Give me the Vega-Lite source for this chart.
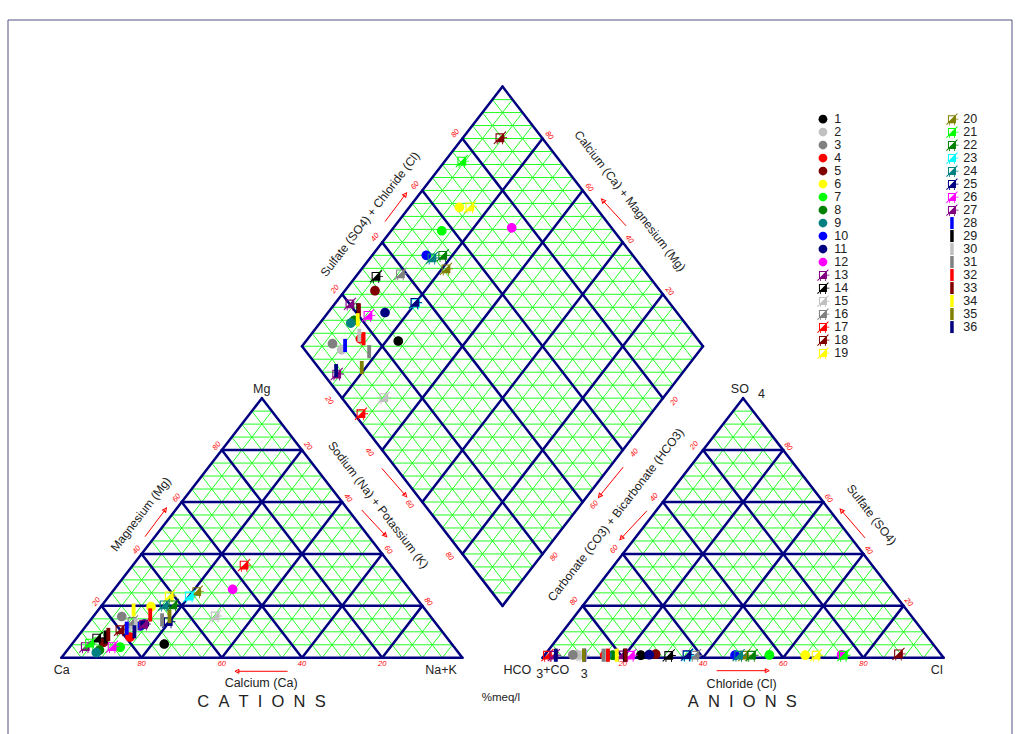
{
  "$schema": "https://vega.github.io/schema/vega-lite/v6.json",
  "width": 1004,
  "height": 714,
  "padding": {"left": 8, "top": 20, "right": 6, "bottom": 0},
  "autosize": {"type": "none"},
  "background": "white",
  "config": {"view": {"stroke": null}, "text": {"font": "Liberation Sans"}},
  "datasets": {
    "gridThin": [
      {"t": "c", "d": 1, "ps": [5,10,15,20,25,30,35,40,45,50,55,60,65,70,75,80,85,90,95]},
      {"t": "c", "d": 2, "ps": [5,10,15,20,25,30,35,40,45,50,55,60,65,70,75,80,85,90,95]},
      {"t": "c", "d": 3, "ps": [5,10,15,20,25,30,35,40,45,50,55,60,65,70,75,80,85,90,95]},
      {"t": "a", "d": 1, "ps": [5,10,15,20,25,30,35,40,45,50,55,60,65,70,75,80,85,90,95]},
      {"t": "a", "d": 2, "ps": [5,10,15,20,25,30,35,40,45,50,55,60,65,70,75,80,85,90,95]},
      {"t": "a", "d": 3, "ps": [5,10,15,20,25,30,35,40,45,50,55,60,65,70,75,80,85,90,95]},
      {"t": "d", "d": 4, "ps": [5,10,15,20,25,30,35,40,45,50,55,60,65,70,75,80,85,90,95]},
      {"t": "d", "d": 5, "ps": [5,10,15,20,25,30,35,40,45,50,55,60,65,70,75,80,85,90,95]},
      {"t": "d", "d": 6, "ps": [5,10,15,20,25,30,35,40,45,50,55,60,65,70,75,80,85,90,95,100,105,110,115,120,125,130,135,140,145,150,155,160,165,170,175,180,185,190,195]}
    ],
    "gridThick": [
      {"t": "c", "d": 1, "ps": [0,20,40,60,80]},
      {"t": "c", "d": 2, "ps": [0,20,40,60,80]},
      {"t": "c", "d": 3, "ps": [0,20,40,60,80]},
      {"t": "a", "d": 1, "ps": [0,20,40,60,80]},
      {"t": "a", "d": 2, "ps": [0,20,40,60,80]},
      {"t": "a", "d": 3, "ps": [0,20,40,60,80]},
      {"t": "d", "d": 4, "ps": [0,20,40,60,80,100]},
      {"t": "d", "d": 5, "ps": [0,20,40,60,80,100]}
    ],
    "samples": [
      {"id": "1", "Mg": 5.3, "NaK": 23, "Cl": 24, "SO4": 1},
      {"id": "2", "Mg": 12, "NaK": 10.6, "Cl": 8, "SO4": 1.2},
      {"id": "3", "Mg": 15.9, "NaK": 7.1, "Cl": 7, "SO4": 1.1},
      {"id": "4", "Mg": 8, "NaK": 13.1, "Cl": 15, "SO4": 1},
      {"id": "5", "Mg": 6, "NaK": 7.5, "Cl": 27.5, "SO4": 1.4},
      {"id": "6", "Mg": 19.7, "NaK": 12.5, "Cl": 65, "SO4": 1},
      {"id": "7", "Mg": 4.1, "NaK": 12.6, "Cl": 56, "SO4": 1.1},
      {"id": "8", "Mg": 3, "NaK": 8, "Cl": 17, "SO4": 1},
      {"id": "9", "Mg": 2, "NaK": 7.7, "Cl": 15.5, "SO4": 1.1},
      {"id": "10", "Mg": 12.3, "NaK": 13.5, "Cl": 47.5, "SO4": 1},
      {"id": "11", "Mg": 13, "NaK": 14.2, "Cl": 26, "SO4": 1.2},
      {"id": "12", "Mg": 26.4, "NaK": 29.5, "Cl": 74, "SO4": 1.1},
      {"id": "13", "Mg": 4.3, "NaK": 3.8, "Cl": 19, "SO4": 1.1},
      {"id": "14", "Mg": 7.6, "NaK": 5, "Cl": 31, "SO4": 0.9},
      {"id": "15", "Mg": 16.1, "NaK": 30.3, "Cl": 9.5, "SO4": 1},
      {"id": "16", "Mg": 14, "NaK": 10.6, "Cl": 37.5, "SO4": 1},
      {"id": "17", "Mg": 35.7, "NaK": 27.7, "Cl": 0.7, "SO4": 1},
      {"id": "18", "Mg": 10.8, "NaK": 9.2, "Cl": 88, "SO4": 1.5},
      {"id": "19", "Mg": 23.8, "NaK": 15, "Cl": 67.7, "SO4": 1},
      {"id": "20", "Mg": 25.5, "NaK": 21, "Cl": 49.8, "SO4": 1},
      {"id": "21", "Mg": 5.65, "NaK": 4.2, "Cl": 74.5, "SO4": 1},
      {"id": "22", "Mg": 20.4, "NaK": 17.6, "Cl": 51.6, "SO4": 1},
      {"id": "23", "Mg": 23.8, "NaK": 20, "Cl": 35.6, "SO4": 1},
      {"id": "24", "Mg": 20.4, "NaK": 15.4, "Cl": 48.4, "SO4": 1},
      {"id": "25", "Mg": 13.9, "NaK": 19.7, "Cl": 35.4, "SO4": 1.2},
      {"id": "26", "Mg": 4.3, "NaK": 10.5, "Cl": 21.4, "SO4": 1},
      {"id": "27", "Mg": 13, "NaK": 14, "Cl": 2.3, "SO4": 1},
      {"id": "28", "Mg": 11.4, "NaK": 10.6, "Cl": 9.9, "SO4": 1},
      {"id": "29", "Mg": 8, "NaK": 7, "Cl": 20, "SO4": 1},
      {"id": "30", "Mg": 12.7, "NaK": 12.2, "Cl": 15.4, "SO4": 1},
      {"id": "31", "Mg": 14.6, "NaK": 17.8, "Cl": 14.7, "SO4": 1},
      {"id": "32", "Mg": 16.5, "NaK": 13.9, "Cl": 15.8, "SO4": 1},
      {"id": "33", "Mg": 9, "NaK": 7.2, "Cl": 20.2, "SO4": 1},
      {"id": "34", "Mg": 18.4, "NaK": 8.8, "Cl": 18, "SO4": 1},
      {"id": "35", "Mg": 15.9, "NaK": 19, "Cl": 9.8, "SO4": 1},
      {"id": "36", "Mg": 10, "NaK": 13.2, "Cl": 2.8, "SO4": 1}
    ]
  },
  "layer": [
    {
      "data": {"values": [
        {"u1": -13.32, "v1": -25.42, "u2": -13.32, "v2": 212.74},
        {"u1": -13.32, "v1": 212.74, "u2": 237.06, "v2": 212.74},
        {"u1": 237.06, "v1": 212.74, "u2": 237.06, "v2": -25.42}
      ]},
      "mark": {"type": "rule", "color": "#505080", "strokeWidth": 1},
      "encoding": {
        "x": {"field": "u1", "type": "quantitative", "scale": {"domain": [-13.32, 237.06], "nice": false, "zero": false}, "axis": null},
        "y": {"field": "v1", "type": "quantitative", "scale": {"domain": [-25.42, 212.74], "nice": false, "zero": false}, "axis": null},
        "x2": {"field": "u2"},
        "y2": {"field": "v2"}
      }
    },
    {
      "data": {"name": "gridThin"},
      "transform": [
        {"flatten": ["ps"], "as": ["p"]},
        {"calculate": "datum.t=='a'?120:0", "as": "ox"},
        {"calculate": "datum.d==1?datum.ox+0.5*datum.p:datum.d==2?datum.ox+datum.p:datum.d==3?datum.ox+100-datum.p:datum.d==4?110-0.5*datum.p:datum.d==5?110+0.5*datum.p:110-0.5*min(datum.p,200-datum.p)", "as": "u1"},
        {"calculate": "datum.d==1?0.866025*datum.p:datum.d<=3?0:17.3205+0.866025*datum.p", "as": "v1"},
        {"calculate": "datum.d==1?datum.ox+100-0.5*datum.p:datum.d==2?datum.ox+50+0.5*datum.p:datum.d==3?datum.ox+50-0.5*datum.p:datum.d==4?160-0.5*datum.p:datum.d==5?60+0.5*datum.p:110+0.5*min(datum.p,200-datum.p)", "as": "u2"},
        {"calculate": "datum.d==1?0.866025*datum.p:datum.d<=3?0.866025*(100-datum.p):datum.d<=5?103.923+0.866025*datum.p:17.3205+0.866025*datum.p", "as": "v2"}
      ],
      "mark": {"type": "rule", "color": "#22ff22", "strokeWidth": 1},
      "encoding": {
        "x": {"field": "u1", "type": "quantitative", "scale": {"domain": [-13.32, 237.06], "nice": false, "zero": false}, "axis": null},
        "y": {"field": "v1", "type": "quantitative", "scale": {"domain": [-25.42, 212.74], "nice": false, "zero": false}, "axis": null},
        "x2": {"field": "u2"},
        "y2": {"field": "v2"}
      }
    },
    {
      "data": {"name": "gridThick"},
      "transform": [
        {"flatten": ["ps"], "as": ["p"]},
        {"calculate": "datum.t=='a'?120:0", "as": "ox"},
        {"calculate": "datum.d==1?datum.ox+0.5*datum.p:datum.d==2?datum.ox+datum.p:datum.d==3?datum.ox+100-datum.p:datum.d==4?110-0.5*datum.p:110+0.5*datum.p", "as": "u1"},
        {"calculate": "datum.d==1?0.866025*datum.p:datum.d<=3?0:17.3205+0.866025*datum.p", "as": "v1"},
        {"calculate": "datum.d==1?datum.ox+100-0.5*datum.p:datum.d==2?datum.ox+50+0.5*datum.p:datum.d==3?datum.ox+50-0.5*datum.p:datum.d==4?160-0.5*datum.p:60+0.5*datum.p", "as": "u2"},
        {"calculate": "datum.d==1?0.866025*datum.p:datum.d<=3?0.866025*(100-datum.p):103.923+0.866025*datum.p", "as": "v2"}
      ],
      "mark": {"type": "rule", "color": "#000080", "strokeWidth": 2.5, "strokeCap": "round"},
      "encoding": {
        "x": {"field": "u1", "type": "quantitative", "scale": {"domain": [-13.32, 237.06], "nice": false, "zero": false}, "axis": null},
        "y": {"field": "v1", "type": "quantitative", "scale": {"domain": [-25.42, 212.74], "nice": false, "zero": false}, "axis": null},
        "x2": {"field": "u2"},
        "y2": {"field": "v2"}
      }
    },
    {
      "data": {"values": [
        {"e": "cL", "ps": [20,40,60,80]},
        {"e": "cR", "ps": [20,40,60,80]},
        {"e": "cB", "ps": [20,40,60,80]},
        {"e": "aL", "ps": [20,40,60,80]},
        {"e": "aR", "ps": [20,40,60,80]},
        {"e": "aB", "ps": [20,40,60,80]},
        {"e": "dUL", "ps": [20,40,60,80]},
        {"e": "dUR", "ps": [20,40,60,80]},
        {"e": "dLL", "ps": [20,40,60,80]},
        {"e": "dLR", "ps": [20,40,60,80]}
      ]},
      "transform": [
        {"flatten": ["ps"], "as": ["p"]},
        {"calculate": "datum.e=='cL'?0.5*datum.p-1.25:datum.e=='cR'?51.45+0.5*datum.p:datum.e=='cB'?100-datum.p:datum.e=='aL'?167.83-0.5*datum.p:datum.e=='aR'?221.25-0.5*datum.p:datum.e=='aB'?120+datum.p:datum.e=='dUL'?58.25+0.5*datum.p:datum.e=='dUR'?161.6-0.5*datum.p:datum.e=='dLL'?56.76+0.5*datum.p:162.9-0.5*datum.p", "as": "u"},
        {"calculate": "datum.e=='cL'?0.866*datum.p+1.33:datum.e=='cR'?87.93-0.866*datum.p:(datum.e=='cB'||datum.e=='aB')?-2.07:datum.e=='aL'?88.13-0.866*datum.p:datum.e=='aR'?0.866*datum.p+1.2:datum.e=='dUL'?105.59+0.866*datum.p:datum.e=='dUR'?104.92+0.866*datum.p:datum.e=='dLL'?103.15-0.866*datum.p:102.92-0.866*datum.p", "as": "v"},
        {"calculate": "indexof(['cL','aL','dUL','dLR'], datum.e)>=0?-52.4:(datum.e=='cB'||datum.e=='aB')?0:52.4", "as": "ang"}
      ],
      "mark": {"type": "text", "color": "#ff0000", "fontSize": 7.5, "fontStyle": "italic", "align": "center", "baseline": "middle"},
      "encoding": {
        "x": {"field": "u", "type": "quantitative", "scale": {"domain": [-13.32, 237.06], "nice": false, "zero": false}, "axis": null},
        "y": {"field": "v", "type": "quantitative", "scale": {"domain": [-25.42, 212.74], "nice": false, "zero": false}, "axis": null},
        "text": {"field": "p", "type": "nominal"},
        "angle": {"field": "ang", "type": "quantitative", "scale": null}
      }
    },
    {
      "data": {"name": "arrows", "values": [
        {"ut": 20.85, "vt": 40.4, "uh": 25.83, "vh": 49.3},
        {"ut": 74.89, "vt": 49.3, "uh": 80.7, "vh": 40.96},
        {"ut": 79.9, "vt": 63.2, "uh": 85.7, "vh": 54.3},
        {"ut": 56.4, "vt": -4.5, "uh": 43.9, "vh": -4.5},
        {"ut": 163.4, "vt": -4.3, "uh": 175.9, "vh": -4.3},
        {"ut": 80.7, "vt": 145.5, "uh": 85.7, "vh": 154.4},
        {"ut": 140.8, "vt": 144.1, "uh": 135.1, "vh": 152.4},
        {"ut": 140.1, "vt": 63.6, "uh": 134.3, "vh": 54.1},
        {"ut": 146.0, "vt": 49.0, "uh": 139.7, "vh": 40.0},
        {"ut": 200.4, "vt": 40.0, "uh": 194.6, "vh": 49.0}
      ]},
      "mark": {"type": "rule", "color": "#ff0000", "strokeWidth": 1},
      "encoding": {
        "x": {"field": "ut", "type": "quantitative", "scale": {"domain": [-13.32, 237.06], "nice": false, "zero": false}, "axis": null},
        "y": {"field": "vt", "type": "quantitative", "scale": {"domain": [-25.42, 212.74], "nice": false, "zero": false}, "axis": null},
        "x2": {"field": "uh"},
        "y2": {"field": "vh"}
      }
    },
    {
      "data": {"name": "arrows"},
      "transform": [
        {"calculate": "atan2((datum.uh-datum.ut)*4.01,(datum.vh-datum.vt)*2.998)*180/PI", "as": "ang"}
      ],
      "mark": {"type": "point", "shape": "M0,-1L0.8,0.6L-0.8,0.6Z", "filled": false, "color": "#ff0000", "size": 25, "strokeWidth": 1, "opacity": 1},
      "encoding": {
        "x": {"field": "uh", "type": "quantitative", "scale": {"domain": [-13.32, 237.06], "nice": false, "zero": false}, "axis": null},
        "y": {"field": "vh", "type": "quantitative", "scale": {"domain": [-25.42, 212.74], "nice": false, "zero": false}, "axis": null},
        "angle": {"field": "ang", "type": "quantitative", "scale": null}
      }
    },
    {
      "data": {"values": [
        {"label": "Mg", "u": 49.95, "v": 89.6},
        {"label": "Ca", "u": 0.05, "v": -4.07},
        {"label": "Na+K", "u": 94.7, "v": -4.07},
        {"label": "Cl", "u": 218.3, "v": -4.07},
        {"label": "Calcium (Ca)", "u": 49.8, "v": -8.5},
        {"label": "Chloride (Cl)", "u": 169.65, "v": -8.74},
        {"label": "SO", "u": 169.2, "v": 89.8},
        {"label": "4", "u": 174.6, "v": 87.9},
        {"label": "HCO", "u": 113.7, "v": -4.07},
        {"label": "3", "u": 119.3, "v": -5.3},
        {"label": "+CO", "u": 123.4, "v": -4.07},
        {"label": "3", "u": 130.4, "v": -5.3}
      ]},
      "mark": {"type": "text", "color": "#222222", "fontSize": 12.5, "align": "center", "baseline": "middle"},
      "encoding": {
        "x": {"field": "u", "type": "quantitative", "scale": {"domain": [-13.32, 237.06], "nice": false, "zero": false}, "axis": null},
        "y": {"field": "v", "type": "quantitative", "scale": {"domain": [-25.42, 212.74], "nice": false, "zero": false}, "axis": null},
        "text": {"field": "label", "type": "nominal"}
      }
    },
    {
      "data": {"values": [
        {"label": "C\u00a0\u00a0A\u00a0\u00a0T\u00a0\u00a0I\u00a0\u00a0O\u00a0\u00a0N\u00a0\u00a0S", "u": 49.9, "v": -14.6},
        {"label": "A\u00a0\u00a0N\u00a0\u00a0I\u00a0\u00a0O\u00a0\u00a0N\u00a0\u00a0S", "u": 169.8, "v": -14.6}
      ]},
      "mark": {"type": "text", "color": "#222222", "fontSize": 16.5, "align": "center", "baseline": "middle"},
      "encoding": {
        "x": {"field": "u", "type": "quantitative", "scale": {"domain": [-13.32, 237.06], "nice": false, "zero": false}, "axis": null},
        "y": {"field": "v", "type": "quantitative", "scale": {"domain": [-25.42, 212.74], "nice": false, "zero": false}, "axis": null},
        "text": {"field": "label", "type": "nominal"}
      }
    },
    {
      "data": {"values": [{"label": "%meq/l", "u": 109.6, "v": -13.5}]},
      "mark": {"type": "text", "color": "#222222", "fontSize": 11.5, "align": "center", "baseline": "middle"},
      "encoding": {
        "x": {"field": "u", "type": "quantitative", "scale": {"domain": [-13.32, 237.06], "nice": false, "zero": false}, "axis": null},
        "y": {"field": "v", "type": "quantitative", "scale": {"domain": [-25.42, 212.74], "nice": false, "zero": false}, "axis": null},
        "text": {"field": "label", "type": "nominal"}
      }
    },
    {
      "data": {"values": [
        {"label": "Magnesium (Mg)", "u": 19.8, "v": 47.9},
        {"label": "Sulfate (SO4) + Chloride (Cl)", "u": 76.96, "v": 147.97},
        {"label": "Carbonate (CO3) + Bicarbonate (HCO3)", "u": 138.25, "v": 47.7}
      ]},
      "mark": {"type": "text", "color": "#222222", "fontSize": 12, "align": "center", "baseline": "middle", "angle": -52.4},
      "encoding": {
        "x": {"field": "u", "type": "quantitative", "scale": {"domain": [-13.32, 237.06], "nice": false, "zero": false}, "axis": null},
        "y": {"field": "v", "type": "quantitative", "scale": {"domain": [-25.42, 212.74], "nice": false, "zero": false}, "axis": null},
        "text": {"field": "label", "type": "nominal"}
      }
    },
    {
      "data": {"values": [
        {"label": "Sodium (Na) + Potassium (K)", "u": 79.03, "v": 50.97},
        {"label": "Calcium (Ca) + Magnesium (Mg)", "u": 141.8, "v": 152.4},
        {"label": "Sulfate (SO4)", "u": 202.07, "v": 47.7}
      ]},
      "mark": {"type": "text", "color": "#222222", "fontSize": 12, "align": "center", "baseline": "middle", "angle": 52.4},
      "encoding": {
        "x": {"field": "u", "type": "quantitative", "scale": {"domain": [-13.32, 237.06], "nice": false, "zero": false}, "axis": null},
        "y": {"field": "v", "type": "quantitative", "scale": {"domain": [-25.42, 212.74], "nice": false, "zero": false}, "axis": null},
        "text": {"field": "label", "type": "nominal"}
      }
    },
    {
      "data": {"name": "samples"},
      "transform": [
        {"calculate": "datum.NaK+0.5*datum.Mg", "as": "uc"},
        {"calculate": "0.866025*datum.Mg", "as": "vc"},
        {"calculate": "120+datum.Cl+0.5*datum.SO4", "as": "ua"},
        {"calculate": "0.866025*datum.SO4", "as": "va"},
        {"calculate": "(100-datum.NaK)/100", "as": "cc"},
        {"calculate": "(datum.Cl+datum.SO4)/100", "as": "aa"},
        {"calculate": "110-50*datum.cc+50*datum.aa", "as": "ud"},
        {"calculate": "17.3205+86.6025*(datum.cc+datum.aa)", "as": "vd"},
        {"calculate": "[datum.uc, datum.ua, datum.ud]", "as": "us"},
        {"calculate": "[datum.vc, datum.va, datum.vd]", "as": "vs"},
        {"flatten": ["us", "vs"], "as": ["u", "v"]}
      ],
      "mark": {"type": "point", "filled": true, "opacity": 1, "size": 120, "strokeWidth": 0},
      "encoding": {
        "x": {"field": "u", "type": "quantitative", "scale": {"domain": [-13.32, 237.06], "nice": false, "zero": false}, "axis": null},
        "y": {"field": "v", "type": "quantitative", "scale": {"domain": [-25.42, 212.74], "nice": false, "zero": false}, "axis": null},
        "color": {
          "field": "id", "type": "nominal",
          "scale": {
            "domain": ["1","2","3","4","5","6","7","8","9","10","11","12","13","14","15","16","17","18","19","20","21","22","23","24","25","26","27","28","29","30","31","32","33","34","35","36","blank"],
            "range": ["#000000","#c0c0c0","#808080","#ff0000","#800000","#ffff00","#00ff00","#008000","#008080","#0000ff","#000080","#ff00ff","#800080","#000000","#c0c0c0","#808080","#ff0000","#800000","#ffff00","#808000","#00ff00","#008000","#00ffff","#008080","#000080","#ff00ff","#800080","#0000ff","#000000","#c0c0c0","#808080","#ff0000","#800000","#ffff00","#808000","#000080","#ffffff"]
          },
          "legend": {"title": null, "orient": "none", "legendX": 808.7, "legendY": 92.8, "columns": 2, "columnPadding": 97, "rowPadding": 0, "symbolLimit": 0, "labelFont": "Liberation Sans", "labelFontSize": 12.5, "labelColor": "#222222", "labelOffset": 5, "symbolSize": 100, "symbolStrokeWidth": 0, "symbolOpacity": 1, "padding": 0, "labelExpr": "datum.value=='blank'?'':datum.label"}
        },
        "shape": {
          "field": "id", "type": "nominal",
          "scale": {
            "domain": ["1","2","3","4","5","6","7","8","9","10","11","12","13","14","15","16","17","18","19","20","21","22","23","24","25","26","27","28","29","30","31","32","33","34","35","36","blank"],
            "range": [
              "M0.88,0A0.88,0.88 0 1,1 -0.88,0A0.88,0.88 0 1,1 0.88,0Z",
              "M0.88,0A0.88,0.88 0 1,1 -0.88,0A0.88,0.88 0 1,1 0.88,0Z",
              "M0.88,0A0.88,0.88 0 1,1 -0.88,0A0.88,0.88 0 1,1 0.88,0Z",
              "M0.88,0A0.88,0.88 0 1,1 -0.88,0A0.88,0.88 0 1,1 0.88,0Z",
              "M0.88,0A0.88,0.88 0 1,1 -0.88,0A0.88,0.88 0 1,1 0.88,0Z",
              "M0.88,0A0.88,0.88 0 1,1 -0.88,0A0.88,0.88 0 1,1 0.88,0Z",
              "M0.88,0A0.88,0.88 0 1,1 -0.88,0A0.88,0.88 0 1,1 0.88,0Z",
              "M0.88,0A0.88,0.88 0 1,1 -0.88,0A0.88,0.88 0 1,1 0.88,0Z",
              "M0.88,0A0.88,0.88 0 1,1 -0.88,0A0.88,0.88 0 1,1 0.88,0Z",
              "M0.88,0A0.88,0.88 0 1,1 -0.88,0A0.88,0.88 0 1,1 0.88,0Z",
              "M0.88,0A0.88,0.88 0 1,1 -0.88,0A0.88,0.88 0 1,1 0.88,0Z",
              "M0.88,0A0.88,0.88 0 1,1 -0.88,0A0.88,0.88 0 1,1 0.88,0Z",

              "M-0.8,-0.8H0.8V0.8H-0.8ZM-0.6,-0.6V0.6H0.6V-0.6ZM-0.6,0.6L0.6,-0.6L0.6,0.6ZM-1.17,1.03L1.03,-1.17L1.17,-1.03L-1.03,1.17ZM0.8,-0.08H1.3V0.08H0.8ZM-0.58,0.8H-0.42V1.2H-0.58ZM0.42,0.8H0.58V1.2H0.42Z",
              "M-0.8,-0.8H0.8V0.8H-0.8ZM-0.6,-0.6V0.6H0.6V-0.6ZM-0.6,0.6L0.6,-0.6L0.6,0.6ZM-1.17,1.03L1.03,-1.17L1.17,-1.03L-1.03,1.17ZM0.8,-0.08H1.3V0.08H0.8ZM-0.58,0.8H-0.42V1.2H-0.58ZM0.42,0.8H0.58V1.2H0.42Z",
              "M-0.8,-0.8H0.8V0.8H-0.8ZM-0.6,-0.6V0.6H0.6V-0.6ZM-0.6,0.6L0.6,-0.6L0.6,0.6ZM-1.17,1.03L1.03,-1.17L1.17,-1.03L-1.03,1.17ZM0.8,-0.08H1.3V0.08H0.8ZM-0.58,0.8H-0.42V1.2H-0.58ZM0.42,0.8H0.58V1.2H0.42Z",
              "M-0.8,-0.8H0.8V0.8H-0.8ZM-0.6,-0.6V0.6H0.6V-0.6ZM-0.6,0.6L0.6,-0.6L0.6,0.6ZM-1.17,1.03L1.03,-1.17L1.17,-1.03L-1.03,1.17ZM0.8,-0.08H1.3V0.08H0.8ZM-0.58,0.8H-0.42V1.2H-0.58ZM0.42,0.8H0.58V1.2H0.42Z",
              "M-0.8,-0.8H0.8V0.8H-0.8ZM-0.6,-0.6V0.6H0.6V-0.6ZM-0.6,0.6L0.6,-0.6L0.6,0.6ZM-1.17,1.03L1.03,-1.17L1.17,-1.03L-1.03,1.17ZM0.8,-0.08H1.3V0.08H0.8ZM-0.58,0.8H-0.42V1.2H-0.58ZM0.42,0.8H0.58V1.2H0.42Z",

              "M-0.8,-0.8H0.8V0.8H-0.8ZM-0.6,-0.6V0.6H0.6V-0.6ZM-0.6,0.6L0.6,-0.6L0.6,0.6ZM-1.17,1.03L1.03,-1.17L1.17,-1.03L-1.03,1.17ZM0.8,-0.08H1.3V0.08H0.8ZM-0.58,0.8H-0.42V1.2H-0.58ZM0.42,0.8H0.58V1.2H0.42Z",
              "M-0.8,-0.8H0.8V0.8H-0.8ZM-0.6,-0.6V0.6H0.6V-0.6ZM-0.6,0.6L0.6,-0.6L0.6,0.6ZM-1.17,1.03L1.03,-1.17L1.17,-1.03L-1.03,1.17ZM0.8,-0.08H1.3V0.08H0.8ZM-0.58,0.8H-0.42V1.2H-0.58ZM0.42,0.8H0.58V1.2H0.42Z",
              "M-0.8,-0.8H0.8V0.8H-0.8ZM-0.6,-0.6V0.6H0.6V-0.6ZM-0.6,0.6L0.6,-0.6L0.6,0.6ZM-1.17,1.03L1.03,-1.17L1.17,-1.03L-1.03,1.17ZM0.8,-0.08H1.3V0.08H0.8ZM-0.58,0.8H-0.42V1.2H-0.58ZM0.42,0.8H0.58V1.2H0.42Z",
              "M-0.8,-0.8H0.8V0.8H-0.8ZM-0.6,-0.6V0.6H0.6V-0.6ZM-0.6,0.6L0.6,-0.6L0.6,0.6ZM-1.17,1.03L1.03,-1.17L1.17,-1.03L-1.03,1.17ZM0.8,-0.08H1.3V0.08H0.8ZM-0.58,0.8H-0.42V1.2H-0.58ZM0.42,0.8H0.58V1.2H0.42Z",
              "M-0.8,-0.8H0.8V0.8H-0.8ZM-0.6,-0.6V0.6H0.6V-0.6ZM-0.6,0.6L0.6,-0.6L0.6,0.6ZM-1.17,1.03L1.03,-1.17L1.17,-1.03L-1.03,1.17ZM0.8,-0.08H1.3V0.08H0.8ZM-0.58,0.8H-0.42V1.2H-0.58ZM0.42,0.8H0.58V1.2H0.42Z",

              "M-0.8,-0.8H0.8V0.8H-0.8ZM-0.6,-0.6V0.6H0.6V-0.6ZM-0.6,0.6L0.6,-0.6L0.6,0.6ZM-1.17,1.03L1.03,-1.17L1.17,-1.03L-1.03,1.17ZM0.8,-0.08H1.3V0.08H0.8ZM-0.58,0.8H-0.42V1.2H-0.58ZM0.42,0.8H0.58V1.2H0.42Z",
              "M-0.8,-0.8H0.8V0.8H-0.8ZM-0.6,-0.6V0.6H0.6V-0.6ZM-0.6,0.6L0.6,-0.6L0.6,0.6ZM-1.17,1.03L1.03,-1.17L1.17,-1.03L-1.03,1.17ZM0.8,-0.08H1.3V0.08H0.8ZM-0.58,0.8H-0.42V1.2H-0.58ZM0.42,0.8H0.58V1.2H0.42Z",
              "M-0.8,-0.8H0.8V0.8H-0.8ZM-0.6,-0.6V0.6H0.6V-0.6ZM-0.6,0.6L0.6,-0.6L0.6,0.6ZM-1.17,1.03L1.03,-1.17L1.17,-1.03L-1.03,1.17ZM0.8,-0.08H1.3V0.08H0.8ZM-0.58,0.8H-0.42V1.2H-0.58ZM0.42,0.8H0.58V1.2H0.42Z",
              "M-0.8,-0.8H0.8V0.8H-0.8ZM-0.6,-0.6V0.6H0.6V-0.6ZM-0.6,0.6L0.6,-0.6L0.6,0.6ZM-1.17,1.03L1.03,-1.17L1.17,-1.03L-1.03,1.17ZM0.8,-0.08H1.3V0.08H0.8ZM-0.58,0.8H-0.42V1.2H-0.58ZM0.42,0.8H0.58V1.2H0.42Z",
              "M-0.8,-0.8H0.8V0.8H-0.8ZM-0.6,-0.6V0.6H0.6V-0.6ZM-0.6,0.6L0.6,-0.6L0.6,0.6ZM-1.17,1.03L1.03,-1.17L1.17,-1.03L-1.03,1.17ZM0.8,-0.08H1.3V0.08H0.8ZM-0.58,0.8H-0.42V1.2H-0.58ZM0.42,0.8H0.58V1.2H0.42Z",

              "M-0.35,-1.2H0.35V1.2H-0.35Z",
              "M-0.35,-1.2H0.35V1.2H-0.35Z",
              "M-0.35,-1.2H0.35V1.2H-0.35Z",
              "M-0.35,-1.2H0.35V1.2H-0.35Z",
              "M-0.35,-1.2H0.35V1.2H-0.35Z",
              "M-0.35,-1.2H0.35V1.2H-0.35Z",
              "M-0.35,-1.2H0.35V1.2H-0.35Z",
              "M-0.35,-1.2H0.35V1.2H-0.35Z",
              "M-0.35,-1.2H0.35V1.2H-0.35Z",

              "M0.88,0A0.88,0.88 0 1,1 -0.88,0A0.88,0.88 0 1,1 0.88,0Z"
            ]
          },
          "legend": {"title": null, "orient": "none", "legendX": 808.7, "legendY": 92.8, "columns": 2, "columnPadding": 97, "rowPadding": 0, "symbolLimit": 0, "labelFont": "Liberation Sans", "labelFontSize": 12.5, "labelColor": "#222222", "labelOffset": 5, "symbolSize": 100, "symbolStrokeWidth": 0, "symbolOpacity": 1, "padding": 0, "labelExpr": "datum.value=='blank'?'':datum.label"}
        }
      }
    }
  ]
}
